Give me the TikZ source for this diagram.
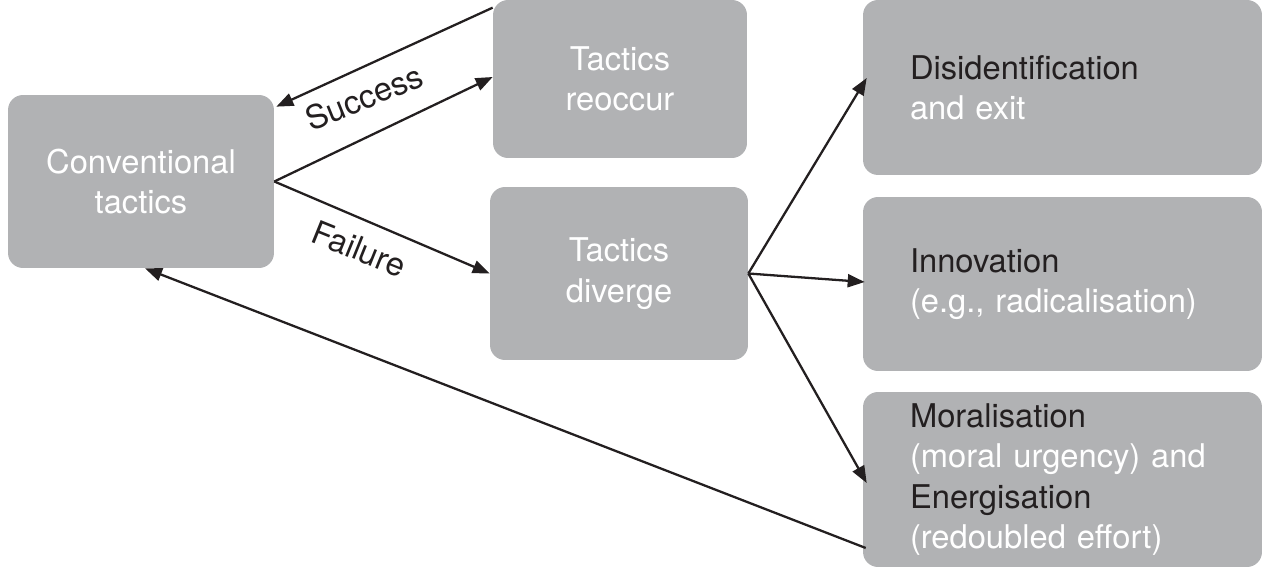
\documentclass[tikz,border=0pt]{standalone}
\usepackage{fontspec}
\setmainfont{TeX Gyre Heros}
\usetikzlibrary{arrows.meta}
\definecolor{boxgray}{HTML}{B1B2B4}
\definecolor{ink}{HTML}{231F20}
\begin{document}
\begin{tikzpicture}[x=0.02cm,y=-0.02cm,
  box/.style={fill=boxgray, draw=none, rounded corners=0.3cm, text=white,
    align=center, font={\fontsize{18.6}{23}\selectfont}, inner sep=0pt},
  rbox/.style={box, align=left, text width=6.1cm, inner xsep=0.94cm,
    minimum height=3.5cm},
  conn/.style={draw=ink, line width=1.3pt, -{Triangle[length=0.34cm,width=0.26cm]}},
  lbl/.style={text=ink, font={\fontsize{18.6}{23}\selectfont}, inner sep=0pt}]
\useasboundingbox (0,0) rectangle (1264,567);
\node[box, minimum width=5.32cm, minimum height=3.46cm] (conv) at (141,181.5) {Conventional\\tactics};
\node[box, minimum width=5.08cm, minimum height=3.16cm] (reoccur) at (620,79) {Tactics\\reoccur};
\node[box, minimum width=5.16cm, minimum height=3.46cm] (diverge) at (619,273.5) {Tactics\\diverge};
\node[rbox] (disid) at (1062.5,87.5) {\textcolor{ink}{Disidentification}\\and exit};
\node[rbox, minimum height=3.48cm] (innov) at (1062.5,284) {\textcolor{ink}{Innovation}\\(e.g., radicalisation)};
\node[rbox] (moral) at (1062.5,479.5) {\textcolor{ink}{Moralisation}\\(moral urgency) and\\\textcolor{ink}{Energisation}\\(redoubled effort)};
\draw[conn] ([yshift=-0.16cm]reoccur.north west) -- ([xshift=0.04cm,yshift=-0.24cm]conv.north east);
\draw[conn] (conv.east) -- ([yshift=0.04cm]reoccur.west);
\draw[conn] (conv.east) -- (diverge.west);
\draw[conn] (diverge.east) -- ([xshift=0.08cm,yshift=0.19cm]disid.west);
\draw[conn] (diverge.east) -- ([xshift=0.04cm,yshift=0.04cm]innov.west);
\draw[conn] (diverge.east) -- ([xshift=0.08cm,yshift=-0.07cm]moral.west);
\draw[conn] ([xshift=0.06cm,yshift=-1.37cm]moral.west) -- ([xshift=0.08cm]conv.south);
\node[lbl, rotate=22] (succ) at (364,97) {Success};
\node[lbl, rotate=-22] (fail) at (359,249) {Failure};
\end{tikzpicture}
\end{document}
